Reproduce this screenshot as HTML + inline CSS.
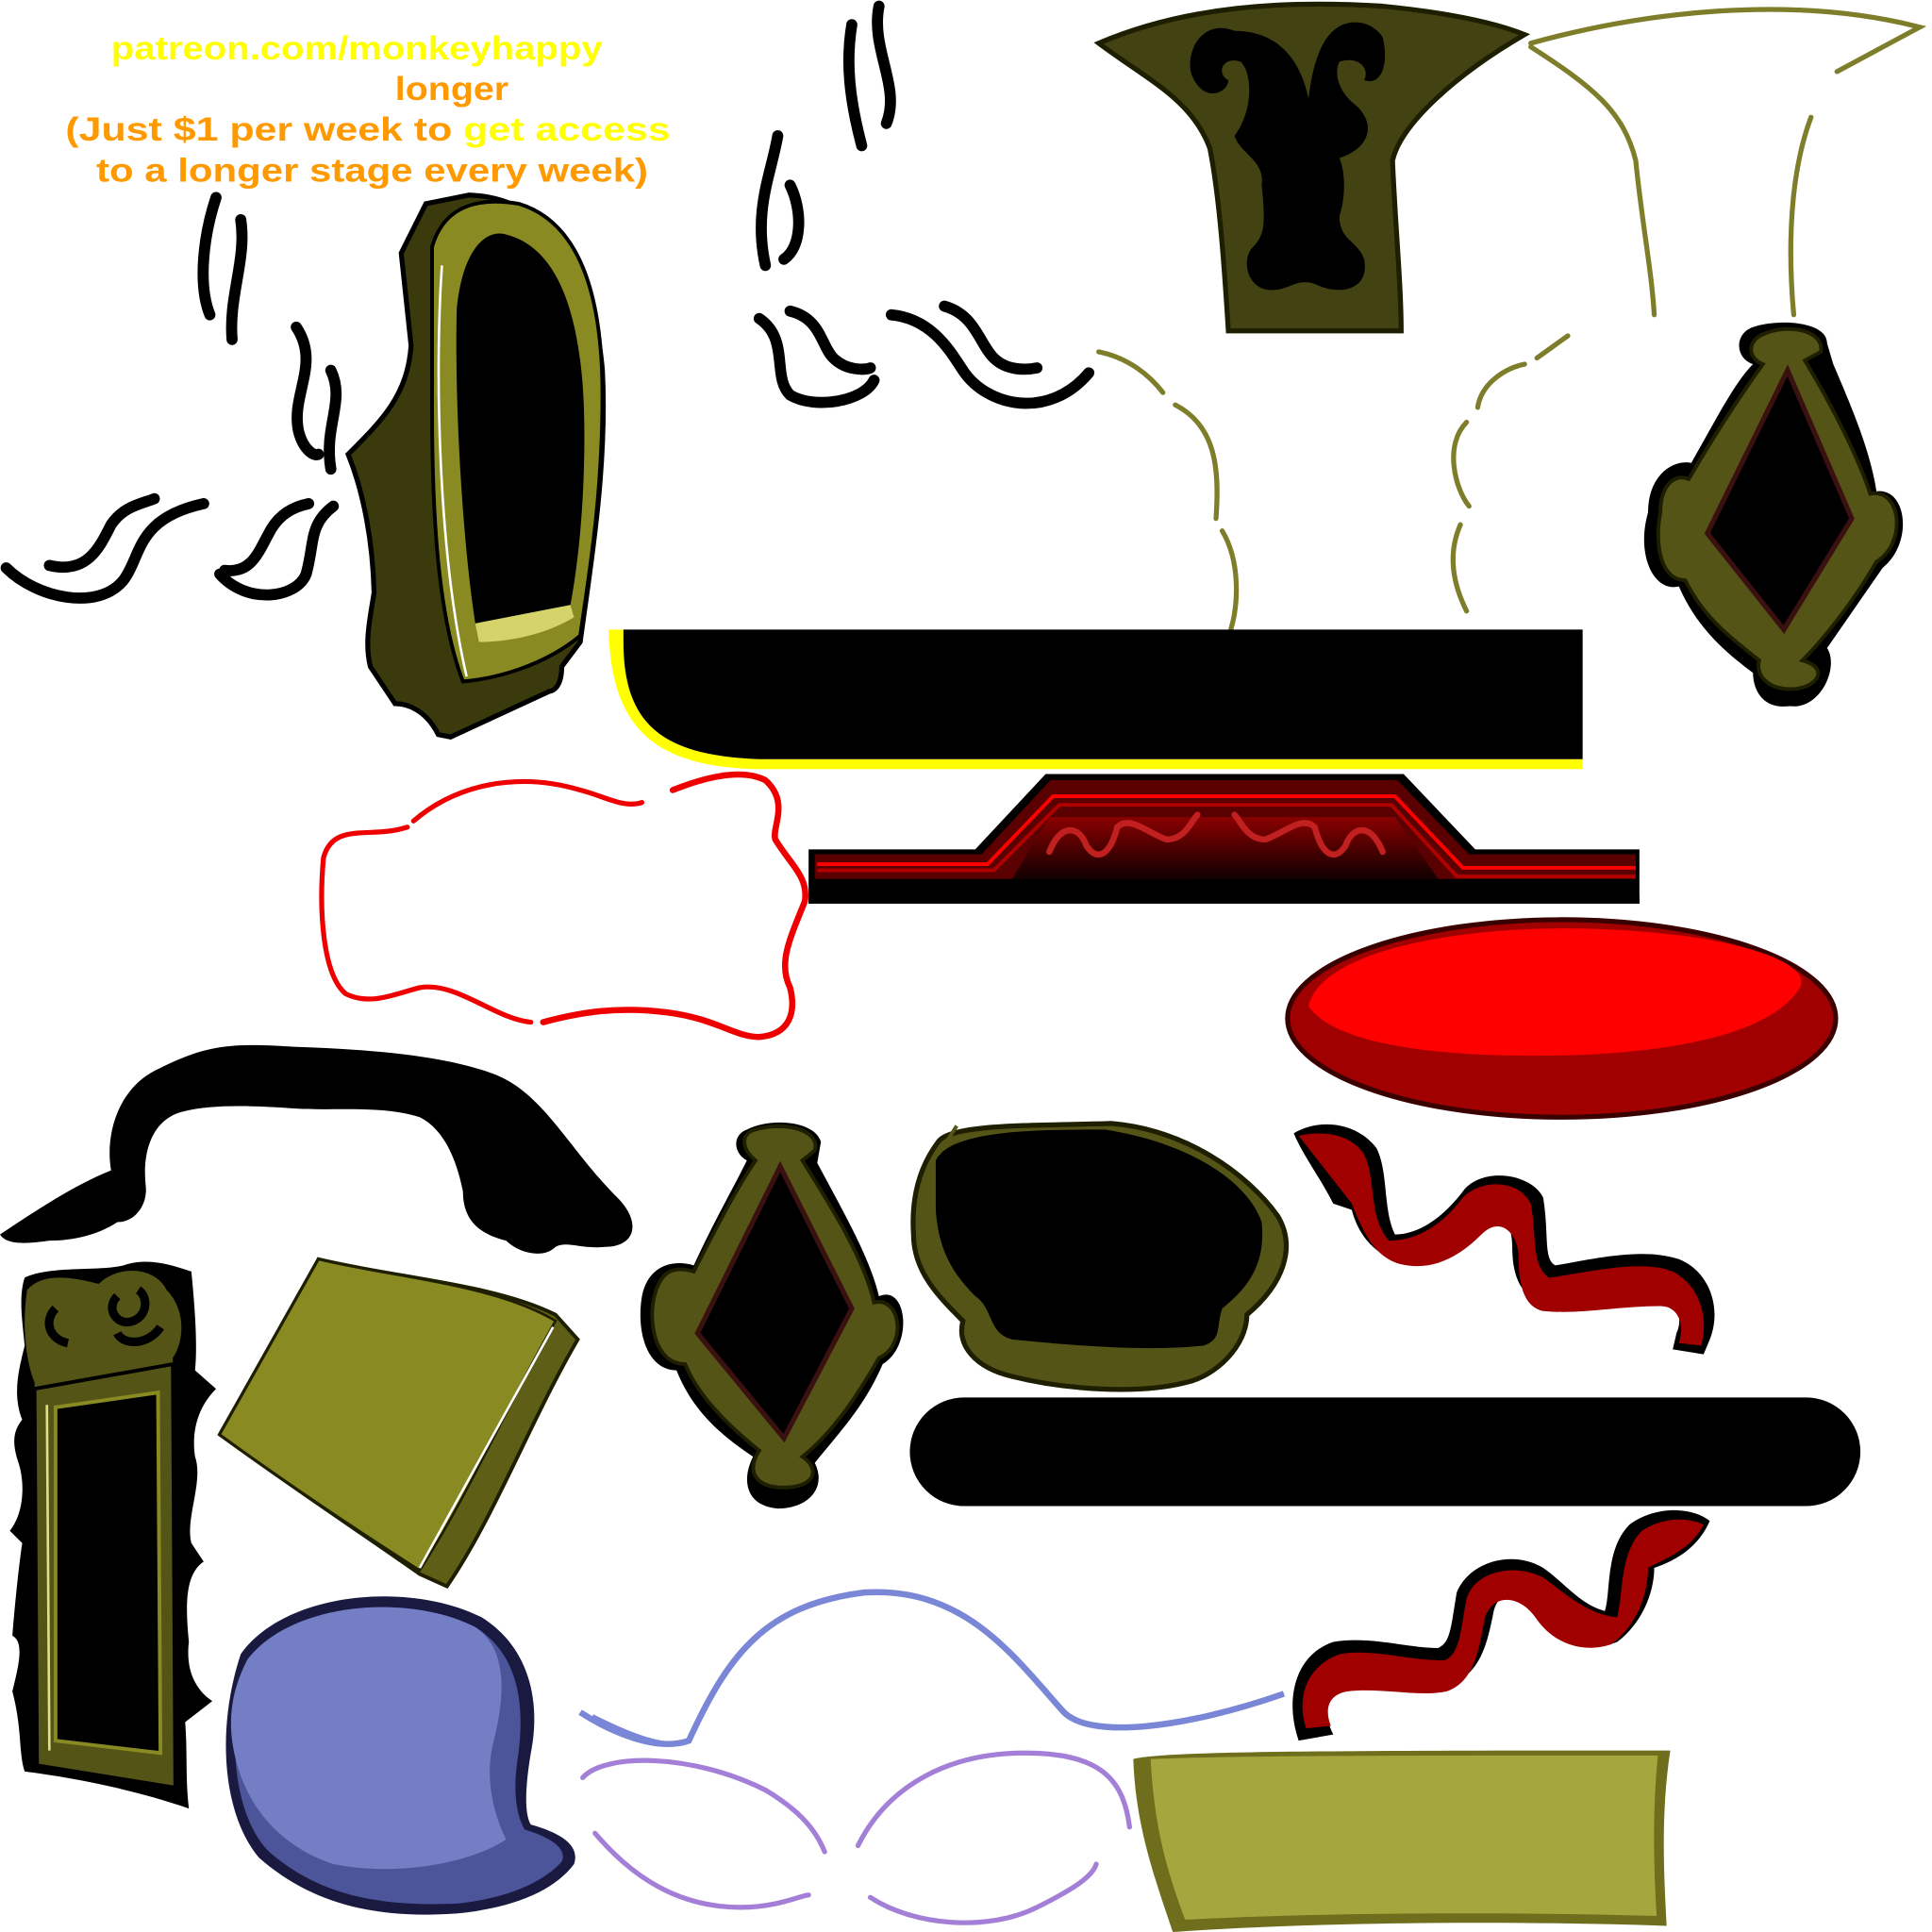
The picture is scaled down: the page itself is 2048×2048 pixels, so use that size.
<!DOCTYPE html>
<html><head><meta charset="utf-8"><style>
html,body{margin:0;padding:0;background:#fff;}
svg{display:block;}
text{font-family:"Liberation Sans",sans-serif;font-weight:bold;}
</style></head><body>
<svg width="2048" height="2048" viewBox="0 0 1565 1565" xmlns="http://www.w3.org/2000/svg">
<defs>
<linearGradient id="rg" x1="0" y1="0" x2="0" y2="1"><stop offset="0" stop-color="#8a0000"/><stop offset="1" stop-color="#100000"/></linearGradient>
</defs>
<!-- text -->
<text x="90" y="48" font-size="27" fill="#ffff00" textLength="398" lengthAdjust="spacingAndGlyphs">patreon.com/monkeyhappy</text>
<text x="320" y="81" font-size="27" fill="#ff9900" textLength="92" lengthAdjust="spacingAndGlyphs">longer</text>
<text x="53" y="114" font-size="27" fill="#ff9900" textLength="490" lengthAdjust="spacingAndGlyphs">(Just $1 per week to <tspan fill="#ffff00">get access</tspan></text>
<text x="78" y="147" font-size="27" fill="#ff9900" textLength="447" lengthAdjust="spacingAndGlyphs">to a longer stage every week)</text>

<!-- smoke squiggles -->
<g fill="none" stroke="#000" stroke-width="9" stroke-linecap="round">
<path d="M175 160 C165 190,160 230,170 255"/>
<path d="M195 178 C200 210,185 240,188 275"/>
<path d="M240 265 C260 295,235 320,242 350 C246 365,255 370,258 368"/>
<path d="M268 300 C280 325,262 345,268 380"/>
<path d="M5 460 C30 485,80 495,100 470 C115 450,110 420,165 408"/>
<path d="M40 458 C70 465,80 445,90 425 C100 410,115 408,125 404"/>
<path d="M178 465 C200 490,240 485,248 465 C255 440,250 425,270 410"/>
<path d="M182 462 C205 465,210 445,220 428 C228 415,240 410,250 408"/>
<path d="M690 20 C685 50,688 80,698 118"/>
<path d="M712 5 C705 40,730 70,718 100"/>
<path d="M630 110 C625 140,610 170,620 215"/>
<path d="M640 150 C650 170,650 200,635 210"/>
<path d="M615 258 C640 275,625 305,640 320 C660 332,700 325,708 308"/>
<path d="M640 252 C665 258,665 280,675 290 C685 300,700 300,705 298"/>
<path d="M722 255 C755 258,770 285,780 300 C800 330,850 340,882 302"/>
<path d="M765 248 C790 255,793 278,805 290 C815 300,830 300,840 298"/>
</g>

<!-- mirror frame 1 -->
<path d="M325 205 L345 165 L380 158 C440 160,480 210,488 300 C492 380,478 460,470 520 L455 540 C455 560,445 560,445 560 L365 597 L355 595 C345 575,330 570,320 570 L300 540 C295 520,300 500,303 480 C302 440,295 400,282 368 C310 340,330 320,333 280 L325 205Z" fill="#3a3a0c" stroke="#000" stroke-width="4"/>
<path d="M350 200 C360 165,390 160,420 165 C470 180,488 240,488 320 C488 400,478 460,470 515 C440 540,400 550,375 552 C355 500,350 420,350 330 Z" fill="#8a8a22" stroke="#000" stroke-width="3"/>
<path d="M370 250 C375 200,395 185,410 190 C450 200,470 250,473 330 C475 400,468 460,462 490 C440 500,410 505,385 505 C375 440,368 330,370 250Z" fill="#000"/>
<path d="M385 505 L462 490 L465 500 C440 515,410 520,388 520Z" fill="#d4d46a"/>
<path d="M358 215 C352 300,355 450,378 548" fill="none" stroke="#fff" stroke-width="2"/>

<!-- top center olive -->
<path d="M890 35 C960 5,1040 0,1120 5 C1170 10,1210 18,1235 28 C1180 60,1135 100,1128 130 C1130 180,1135 230,1135 268 L995 268 C992 220,988 160,980 120 C965 80,930 65,890 35Z" fill="#434212" stroke="#1e1e00" stroke-width="4"/>
<path d="M1000 25 C975 15,960 40,965 60 C975 85,995 75,995 65 C985 60,990 45,1005 50 C1015 60,1015 90,1000 110 C1005 125,1025 130,1022 150 C1025 180,1025 190,1015 200 C1005 210,1010 235,1030 235 C1045 235,1050 225,1065 230 C1085 240,1110 235,1105 210 C1100 195,1085 195,1085 175 C1090 160,1090 140,1085 128 C1110 120,1115 100,1098 85 C1085 75,1080 60,1085 50 C1100 45,1110 55,1105 65 C1120 70,1125 50,1120 30 C1110 15,1090 15,1080 25 C1068 35,1062 60,1060 80 C1055 55,1040 25,1000 25Z" fill="#000"/>

<!-- thin olive lines top right -->
<g fill="none" stroke="#7d7d2a" stroke-width="4" stroke-linecap="round">
<path d="M1240 35 C1330 10,1450 -5,1555 22 L1488 58"/>
<path d="M1240 38 C1290 70,1315 90,1325 130 C1330 180,1338 220,1340 255"/>
<path d="M1467 95 C1450 140,1448 200,1453 255"/>
<path d="M890 285 C915 290,932 305,942 318"/>
<path d="M952 328 C985 345,988 380,985 420"/>
<path d="M990 430 C1005 455,1003 490,997 510"/>
<path d="M1197 330 C1200 310,1220 298,1235 295"/>
<path d="M1245 290 L1270 272"/>
<path d="M1188 342 C1170 360,1178 395,1190 410"/>
<path d="M1183 425 C1172 450,1178 475,1188 495"/>
</g>

<!-- diamond mirror right -->
<g>
<path d="M1420 265 C1440 258,1480 260,1480 278 L1485 295 C1500 330,1515 365,1520 398 C1545 395,1550 440,1525 460 L1480 525 C1490 540,1475 575,1450 572 C1425 575,1420 555,1420 545 C1400 530,1375 510,1360 475 C1340 480,1325 450,1335 415 C1335 385,1355 372,1370 375 C1390 340,1405 310,1420 295 C1405 290,1405 270,1420 265Z" fill="#000"/>
<path d="M1430 270 C1450 262,1478 268,1475 285 L1462 292 C1485 330,1505 370,1515 400 C1540 395,1545 440,1520 455 C1500 490,1475 520,1460 535 C1480 540,1475 555,1455 558 C1430 560,1422 545,1425 535 C1400 515,1380 500,1365 470 C1345 470,1340 440,1345 415 C1345 395,1355 383,1368 388 C1390 350,1410 320,1428 295 C1415 290,1415 275,1430 270Z" fill="#545416" stroke="#1e1e00" stroke-width="3"/>
<path d="M1448 300 L1500 420 L1445 510 L1383 432Z" fill="#000" stroke="#3a1010" stroke-width="4"/>
</g>

<!-- black bar with yellow -->
<path d="M493 510 L505 510 L505 520 C505 590,540 612,615 615 L1282 615 L1282 623 L610 623 C530 620,495 590,493 510Z" fill="#ffff00"/>
<path d="M505 510 L1282 510 L1282 615 L615 615 C540 612,505 590,505 520Z" fill="#000"/>

<!-- red cloud outline -->
<g fill="none" stroke="#ee0000" stroke-linecap="round">
<path d="M330 670 C300 680,270 665,262 695 C258 740,262 790,280 805 C300 815,320 805,340 800 C370 795,400 825,430 828" stroke-width="4"/>
<path d="M335 665 C370 635,420 625,470 640 C490 645,505 655,520 650" stroke-width="4"/>
<path d="M545 640 C570 630,600 622,620 632 C640 650,625 670,628 680 C640 700,655 710,652 730 C640 760,630 780,640 800 C645 820,640 838,615 840 C595 840,580 825,540 820 C500 815,470 820,440 828" stroke-width="5"/>
</g>

<!-- ornate red bar -->
<path d="M655 688 L790 688 L847 627 L1137 627 L1195 688 L1328 688 L1328 732 L655 732Z" fill="#000"/>
<path d="M660 692 L795 692 L851 632 L1132 632 L1190 692 L1325 692 L1325 712 L660 712Z" fill="#5a0000"/>
<path d="M662 700 L800 700 L853 645 L1130 645 L1185 703 L1325 703" fill="none" stroke="#ff0000" stroke-width="3"/>
<path d="M662 705 L805 705 L858 652 L1127 652 L1180 710 L1325 710" fill="none" stroke="#b00000" stroke-width="3"/>
<path d="M820 712 L850 662 L1130 662 L1165 712Z" fill="url(#rg)"/>
<g fill="none" stroke="#c02020" stroke-width="5" stroke-linecap="round">
<path d="M850 690 C860 665,875 670,880 685 C890 700,900 690,905 670 C915 660,930 675,945 680 C960 680,965 665,970 660"/>
<path d="M1120 690 C1110 665,1095 670,1090 685 C1080 700,1070 690,1065 670 C1055 660,1040 675,1025 680 C1010 680,1005 665,1000 660"/>
</g>
<path d="M655 732 L1328 732 L1328 725 L655 725Z" fill="#000"/>

<!-- red ellipse -->
<ellipse cx="1265" cy="825" rx="222" ry="80" fill="#a00000" stroke="#3a0000" stroke-width="4"/>
<path d="M1060 815 C1070 770,1180 752,1265 752 C1380 752,1470 775,1458 800 C1440 830,1380 852,1265 855 C1160 857,1080 845,1060 815Z" fill="#ff0000"/>

<!-- black arch -->
<path d="M0 1000 C30 980,60 960,90 948 C85 920,95 880,130 865 C170 845,190 845,240 848 C300 850,360 855,400 870 C440 885,460 930,500 970 C520 990,515 1010,490 1010 C470 1012,460 1005,450 1010 C440 1020,420 1015,410 1005 C390 1000,375 990,375 965 C370 940,360 915,340 905 C310 895,270 900,240 898 C200 895,170 895,150 900 C125 905,115 930,118 960 C120 975,110 990,95 990 C80 1000,60 1005,40 1005 C20 1008,5 1008,0 1000Z" fill="#000"/>

<!-- tall olive frame -->
<path d="M20 1035 C40 1025,80 1030,100 1025 C120 1018,140 1025,155 1030 C158 1060,160 1090,158 1110 L175 1125 C160 1140,155 1160,158 1180 C165 1200,150 1230,155 1250 L165 1265 C150 1275,150 1300,153 1330 C150 1355,160 1370,172 1378 L150 1395 C152 1420,150 1440,153 1465 C110 1450,60 1440,20 1435 C15 1420,18 1400,10 1370 C15 1350,20 1330,10 1325 C12 1300,15 1270,18 1250 L8 1240 C20 1225,20 1200,15 1185 C10 1170,10 1160,18 1150 C10 1130,15 1110,20 1090 C18 1070,15 1050,20 1035Z" fill="#000"/>
<path d="M22 1045 C35 1030,60 1035,80 1040 C95 1025,125 1025,135 1045 C150 1060,150 1085,140 1100 L142 1440 C110 1440,70 1430,30 1425 L28 1120 C20 1100,18 1070,22 1045Z" fill="#545416"/>
<path d="M45 1060 C35 1070,40 1085,55 1088 M95 1050 C85 1060,95 1075,108 1070 C120 1065,120 1050,112 1045 M130 1075 C120 1090,100 1090,95 1080" fill="none" stroke="#000" stroke-width="7"/>
<path d="M28 1125 L140 1105 L142 1448 L30 1430Z" fill="#545416" stroke="#000" stroke-width="3"/>
<path d="M45 1140 L128 1128 L130 1420 L45 1410Z" fill="#000" stroke="#8a8a22" stroke-width="3"/>
<path d="M38 1138 L40 1418" stroke="#e0e08a" stroke-width="2"/>

<!-- olive square panel -->
<path d="M258 1020 C320 1035,400 1040,450 1065 L468 1085 C430 1150,400 1230,362 1285 L340 1275 C290 1240,230 1200,178 1162Z" fill="#5e5e16" stroke="#1e1e00" stroke-width="3"/>
<path d="M258 1020 C320 1035,400 1040,450 1070 C410 1140,380 1210,340 1272 C290 1240,230 1200,178 1162Z" fill="#8a8a22" stroke="#1e1e00" stroke-width="2"/>
<path d="M448 1075 L340 1270" stroke="#fff" stroke-width="2"/>

<!-- diamond mirror 2 -->
<path d="M605 915 C625 905,660 908,665 925 L662 942 C685 985,705 1020,712 1050 C735 1040,740 1090,715 1105 C700 1140,680 1160,660 1185 C670 1205,655 1222,630 1222 C605 1220,600 1200,610 1180 C580 1160,560 1140,548 1110 C525 1110,515 1080,520 1050 C525 1025,545 1020,562 1025 C578 990,590 970,605 940 C595 935,592 920,605 915Z" fill="#000"/>
<path d="M612 915 C635 908,665 915,660 932 L650 940 C675 980,700 1020,708 1055 C730 1050,735 1090,712 1100 C695 1130,675 1160,650 1180 C665 1190,660 1205,635 1205 C610 1205,605 1190,615 1175 C590 1155,565 1130,555 1105 C530 1105,525 1070,530 1050 C535 1030,545 1025,562 1030 C580 995,595 965,612 940 C600 930,600 918,612 915Z" fill="#545416" stroke="#1e1e00" stroke-width="3"/>
<path d="M632 945 L690 1060 L635 1165 L565 1080Z" fill="#000" stroke="#3a1010" stroke-width="4"/>

<!-- olive blob -->
<path d="M760 925 C770 910,840 912,900 910 C960 915,1010 950,1035 985 C1050 1010,1040 1040,1010 1065 C1010 1090,985 1115,960 1120 C920 1130,860 1125,820 1115 C790 1108,775 1090,780 1070 C760 1050,740 1030,740 1000 C738 970,745 945,760 925Z" fill="#545416" stroke="#1e1e00" stroke-width="4"/>
<path d="M758 940 C770 915,840 915,895 915 C960 925,1010 955,1022 990 C1025 1020,1015 1040,990 1060 C985 1075,990 1085,975 1090 C930 1095,870 1090,820 1085 C800 1080,805 1060,790 1050 C770 1030,760 1010,758 980Z" fill="#000"/>
<path d="M760 935 L775 912" stroke="#545416" stroke-width="3"/>

<!-- red squiggle 1 -->
<path d="M1048 918 C1070 905,1100 910,1115 930 C1125 950,1120 980,1130 1000 C1150 1000,1170 985,1185 965 C1200 945,1240 950,1250 970 C1255 1000,1250 1020,1260 1025 C1290 1020,1330 1010,1360 1020 C1385 1030,1395 1060,1385 1085 L1380 1097 L1355 1093 L1358 1080 C1365 1065,1355 1050,1340 1050 C1310 1050,1280 1058,1250 1055 C1230 1050,1225 1030,1225 1010 C1225 990,1215 975,1200 990 C1180 1015,1160 1022,1140 1022 C1115 1020,1100 1000,1095 980 L1080 975 C1070 955,1055 935,1048 918Z" fill="#000"/>
<path d="M1052 920 C1075 915,1095 920,1105 935 C1115 955,1108 985,1125 1005 C1150 1005,1170 990,1185 970 C1200 955,1230 955,1240 975 C1245 1000,1240 1025,1255 1035 C1290 1030,1330 1020,1355 1030 C1375 1040,1385 1065,1378 1090 L1360 1088 C1365 1070,1358 1058,1345 1058 C1310 1058,1280 1065,1250 1062 C1232 1058,1230 1035,1230 1015 C1228 998,1215 985,1200 1000 C1180 1020,1160 1028,1140 1025 C1115 1022,1105 1000,1095 975 Z" fill="#a00000"/>

<!-- black rounded bar -->
<rect x="737" y="1132" width="770" height="88" rx="44" fill="#000"/>

<!-- blue bubble -->
<path d="M195 1340 C230 1290,330 1280,390 1310 C430 1335,438 1380,430 1420 C425 1450,425 1470,430 1478 C455 1485,470 1495,465 1510 C450 1530,420 1545,370 1550 C300 1555,250 1540,210 1505 C180 1470,175 1400,195 1340Z" fill="#1a1a40"/>
<path d="M200 1345 C235 1298,330 1290,385 1318 C420 1340,425 1380,420 1420 C415 1450,418 1470,425 1482 C445 1488,460 1497,455 1508 C440 1525,410 1538,370 1542 C300 1545,255 1532,218 1500 C188 1470,183 1400,200 1345Z" fill="#4c5599"/>
<path d="M200 1345 C235 1298,330 1290,385 1318 C410 1335,410 1370,400 1410 C392 1440,400 1470,410 1490 C380 1510,320 1520,270 1510 C225 1495,195 1460,188 1410 C185 1385,190 1365,200 1345Z" fill="#737ec4"/>

<!-- blue lines -->
<path d="M470 1387 C490 1400,530 1420,558 1410 C590 1340,620 1300,700 1290 C780 1285,820 1340,860 1385 C880 1410,960 1400,1040 1372" fill="none" stroke="#7a86d6" stroke-width="5"/>
<path d="M480 1390 C510 1405,535 1415,555 1412" fill="none" stroke="#7a86d6" stroke-width="3"/>

<!-- purple curves -->
<g fill="none" stroke="#a37fd8" stroke-width="4" stroke-linecap="round">
<path d="M472 1440 C490 1420,560 1420,620 1450 C645 1465,660 1480,668 1500"/>
<path d="M482 1485 C520 1530,560 1545,600 1545 C630 1545,650 1535,655 1535"/>
<path d="M695 1495 C720 1445,770 1420,830 1420 C890 1420,910 1440,915 1480"/>
<path d="M705 1537 C740 1560,800 1565,840 1545 C870 1530,885 1520,888 1510"/>
</g>

<!-- red squiggle 2 -->
<path d="M1385 1232 C1370 1220,1340 1220,1320 1235 C1300 1255,1305 1290,1300 1305 C1280 1300,1265 1280,1250 1270 C1225 1255,1190 1265,1180 1290 C1175 1320,1175 1330,1165 1335 C1140 1335,1110 1325,1080 1330 C1050 1340,1040 1375,1052 1410 L1080 1405 C1070 1385,1075 1370,1090 1365 C1120 1360,1150 1370,1175 1365 C1200 1355,1205 1330,1210 1305 C1215 1285,1235 1290,1245 1305 C1260 1330,1285 1340,1310 1330 C1330 1315,1340 1290,1340 1270 C1355 1265,1375 1255,1385 1232Z" fill="#000"/>
<path d="M1380 1235 C1365 1228,1345 1230,1330 1240 C1312 1258,1315 1290,1310 1310 C1285 1308,1265 1288,1250 1278 C1228 1266,1195 1272,1188 1295 C1183 1320,1183 1340,1170 1345 C1140 1345,1110 1335,1085 1340 C1058 1350,1050 1375,1058 1400 L1078 1398 C1072 1382,1078 1372,1092 1370 C1120 1367,1150 1375,1172 1370 C1195 1362,1198 1335,1203 1310 C1210 1290,1232 1292,1245 1312 C1258 1330,1280 1340,1305 1332 C1325 1318,1335 1292,1335 1270 C1350 1262,1370 1255,1380 1235Z" fill="#a00000"/>

<!-- olive rectangle -->
<path d="M918 1425 C940 1418,1100 1418,1353 1418 C1345 1470,1348 1520,1350 1560 C1200 1555,1050 1558,950 1565 C935 1520,920 1480,918 1425Z" fill="#6e6e1c"/>
<path d="M932 1425 C1000 1422,1150 1422,1343 1422 C1338 1470,1340 1520,1342 1552 C1200 1548,1060 1550,960 1555 C945 1515,935 1480,932 1425Z" fill="#a6a63e"/>
</svg>
</body></html>
